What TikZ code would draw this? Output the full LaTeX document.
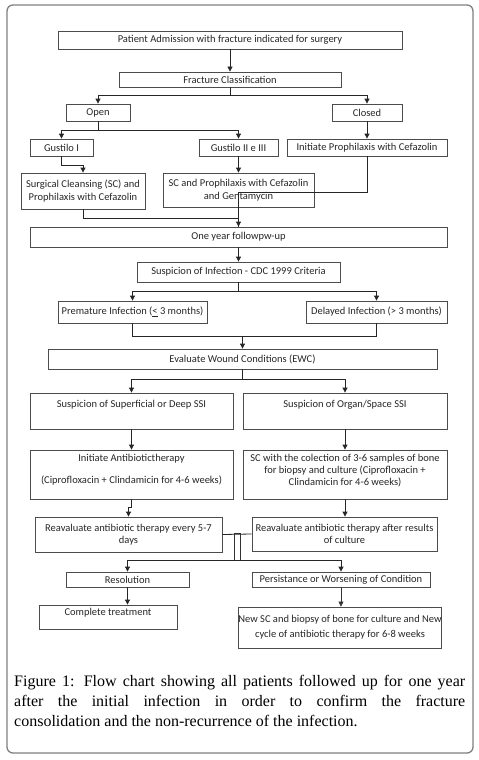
\documentclass[tikz,border=0pt]{standalone}
\usepackage{fontspec}
\setmainfont{Carlito}
\newfontfamily\capfont{Liberation Serif}
\usetikzlibrary{arrows.meta}
\newcommand\flowbox[6]{%
  \pgfmathsetmacro\fbcx{(#2+#4)/2}%
  \pgfmathsetmacro\fbcy{(#3+#5)/2}%
  \pgfmathsetmacro\fbw{#4-#2}%
  \pgfmathsetmacro\fbh{#5-#3}%
  \node[box, minimum width=\fbw pt, minimum height=\fbh pt] (#1) at (\fbcx,\fbcy) {#6};}
\begin{document}
\begin{tikzpicture}[x=1pt,y=-1pt,
  box/.style={draw=black!70, line width=0.8pt, rectangle, inner sep=0pt, align=center,
    font=\fontsize{10.5}{12.5}\selectfont, text=black!85},
  txt/.style={inner sep=0pt, align=center, font=\fontsize{10.5}{12}\selectfont, text=black!85},
  con/.style={draw=black!85, line width=0.8pt},
  arr/.style={con, -{Triangle[length=5pt,width=5pt]}},
  thinarr/.style={draw=black!80, line width=0.5pt, -{Triangle[length=5pt,width=5pt]}},
]
\useasboundingbox (0,0) rectangle (479,760);
\draw[black!50, line width=1.3pt, rounded corners=6pt] (7,5) rectangle (473,753);

\flowbox{adm}{58}{31}{402}{49}{Patient Admission with fracture indicated for surgery}
\flowbox{frac}{119}{72}{341}{87}{Fracture Classification}
\flowbox{open}{66}{104}{130}{121}{Open}
\flowbox{closed}{332}{104}{402}{121}{Closed}
\flowbox{gone}{30}{139}{93}{156}{Gustilo I}
\flowbox{gtwo}{199}{139}{278}{156}{Gustilo II e III}
\flowbox{initp}{287}{139}{447}{156}{Initiate Prophilaxis with Cefazolin}
\flowbox{scone}{21}{173}{145}{209}{Surgical Cleansing (SC) and\\Prophilaxis with Cefazolin}
\flowbox{sctwo}{163}{173}{314}{207}{SC and Prophilaxis with Cefazolin\\and Gentamycin}
\flowbox{year}{30}{227}{447}{247}{One year followpw-up}
\flowbox{susp}{137}{262}{340}{282}{Suspicion of Infection - CDC 1999 Criteria}
\flowbox{prem}{58}{301}{207}{323}{Premature Infection (\underline{<} 3 months)}
\flowbox{del}{306}{301}{447}{323}{Delayed Infection (> 3 months)}
\flowbox{ewc}{48}{349}{437}{369}{Evaluate Wound Conditions (EWC)}
\flowbox{supone}{30}{393}{233}{429}{}
\node[txt] (tsupone) at (131.5,405) {Suspicion of Superficial or Deep SSI};
\flowbox{suptwo}{243}{393}{447}{429}{}
\node[txt] (tsuptwo) at (345,405) {Suspicion of Organ/Space SSI};
\flowbox{antone}{30}{450}{233}{499}{}
\node[txt] (tantonea) at (131.5,459) {Initiate Antibiotictherapy};
\node[txt] (tantoneb) at (131.5,481) {(Ciprofloxacin + Clindamicin for 4-6 weeks)};
\flowbox{anttwo}{243}{450}{447}{499}{}
\node[txt] (tanttwo) at (345,471) {SC with the colection of 3-6 samples of bone\\for biopsy and culture (Ciprofloxacin +\\Clindamicin for 4-6 weeks)};
\flowbox{reaone}{35}{517}{222}{552}{Reavaluate antibiotic therapy every 5-7\\days}
\flowbox{reatwo}{252}{517}{437}{551}{Reavaluate antibiotic therapy after results\\of culture}
\node[draw=black!80, line width=0.8pt, inner sep=0pt, minimum width=6pt, minimum height=27pt] (mg) at (237,546.5) {};
\flowbox{res}{66}{572}{189}{587}{Resolution}
\flowbox{per}{252}{572}{430}{587}{Persistance or Worsening of Condition}
\flowbox{comp}{39}{605}{177}{629}{}
\node[txt] (tcomp) at (108,613) {Complete treatment};
\flowbox{newsc}{240}{607}{440}{648}{New SC and biopsy of bone for culture and New\\[2.5pt]cycle of antibiotic therapy for 6-8 weeks}

% connectors
\draw[arr] (adm) -- (frac);
\draw[arr] (frac.south) -- ++(0,8) -| (open.north);
\draw[arr] (frac.south) -- ++(0,8) -| (closed.north);
\draw[arr] (open.south) -- ++(0,9) -| (gone.north);
\draw[arr] (open.south) -- ++(0,9) -| (gtwo.north);
\draw[arr] (closed) -- (initp);
\draw[arr] (gone.south) -- ++(0,9) -| (scone.north);
\draw[arr] (gtwo.south) -- (gtwo.south |- sctwo.north);
\draw[con] (initp.south) -- ++(0,36) -| (year.north);
\draw[con] (scone.south) -- ++(0,9) -| (year.north);
\draw[arr] (year.north |- sctwo.south) -- (year.north);
\draw[arr] (year) -- (susp);
\draw[arr] (susp.south) -- ++(0,9) -| (prem.north);
\draw[arr] (susp.south) -- ++(0,9) -| (del.north);
\draw[con] (prem.south) -- ++(0,13) coordinate (pj) -| (del.south);
\draw[arr] (pj -| ewc.north) -- (ewc.north);
\draw[arr] (ewc.south) -- ++(0,10) -| (supone.north);
\draw[arr] (ewc.south) -- ++(0,10) -| (suptwo.north);
\draw[arr] (supone) -- (antone);
\draw[arr] (suptwo) -- (anttwo);
\draw[arr] (antone.south) -- ++(0,8) -| (reaone.north);
\draw[arr] (anttwo.south) -- (anttwo.south |- reatwo.north);
\draw[con] (reaone.east) -- (reatwo.west);
\draw[arr] (mg.south) -| (res.north);
\draw[arr] (mg.south) -| (per.north);
\draw[arr] (res.south) -- (res.south |- comp.north);
\draw[thinarr] (per.south) -- (per.south |- newsc.north);

\node[anchor=base west, inner sep=0pt] (cap) at (14,686) {\parbox[t]{451pt}{\capfont\fontsize{16}{20}\selectfont
Figure 1: Flow chart showing all patients followed up for one year\linebreak
after the initial infection in order to confirm the fracture\linebreak
consolidation and the non-recurrence of the infection.}};
\end{tikzpicture}
\end{document}
